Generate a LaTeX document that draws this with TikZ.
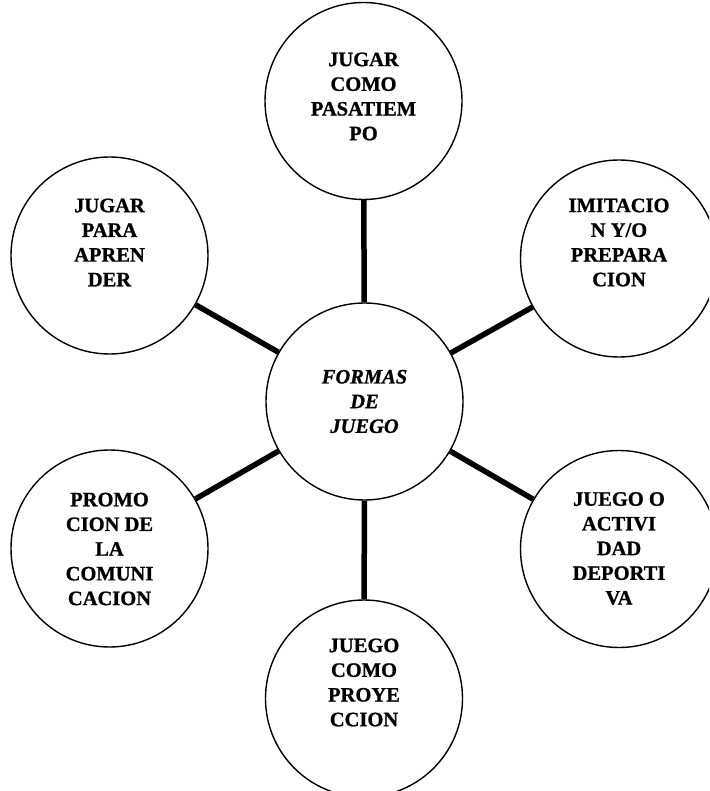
\documentclass[tikz,border=0pt]{standalone}
\usepackage{fontspec}
\setmainfont{Liberation Serif}[BoldFeatures={FakeBold=1}, BoldItalicFeatures={FakeBold=1}]
\begin{document}
\begin{tikzpicture}[x=1pt, y=-1pt,
	ring/.style={draw, circle, line width=1.4pt, minimum size=197pt, inner sep=0pt},
	lbl/.style={align=center, inner sep=0pt, font=\fontsize{20.5}{24.7}\selectfont\bfseries},
	spoke/.style={line width=5.5pt}]
	\useasboundingbox (0, 0) rectangle (709, 791);
	\clip (0, 0) rectangle (709, 791);
				\node[ring] (cen)at(364.5, 401.5) {};
				\node[ring] (tp)at(363.5, 101) {};
				\node[ring] (lt)at(109.5, 255.5) {};
				\node[ring] (rt)at(619, 258.5) {};
				\node[ring] (lb)at(109.5, 548.5) {};
				\node[ring] (rb)at(619, 549) {};
				\node[ring] (bt)at(364, 698.5) {};
				\node[lbl, font=\fontsize{20.5}{24.7}\selectfont\bfseries\itshape] (cenT)at(364.5, 401.5) {FORMAS\\DE\\JUEGO};
				\node[lbl] (tpT)at(363.5, 96.5) {JUGAR\\COMO\\PASATIEM\\PO};
				\node[lbl] (ltT)at(109.5, 242.5) {JUGAR\\PARA\\APREN\\DER};
				\node[lbl] (rtT)at(619, 242.5) {IMITACIO\\N Y/O\\PREPARA\\CION};
				\node[lbl] (lbT)at(109.5, 549) {PROMO\\CION DE\\LA\\COMUNI\\CACION};
				\node[lbl] (rbT)at(619, 548.5) {JUEGO O\\ACTIVI\\DAD\\DEPORTI\\VA};
				\node[lbl] (btT)at(364, 682.5) {JUEGO\\COMO\\PROYE\\CCION};
				\draw[spoke] (cen) -- (tp);
				\draw[spoke] (cen) -- (lt);
				\draw[spoke] (cen) -- (rt);
				\draw[spoke] (cen) -- (lb);
				\draw[spoke] (cen) -- (rb);
				\draw[spoke] (cen) -- (bt);
			\end{tikzpicture}
\end{document}
